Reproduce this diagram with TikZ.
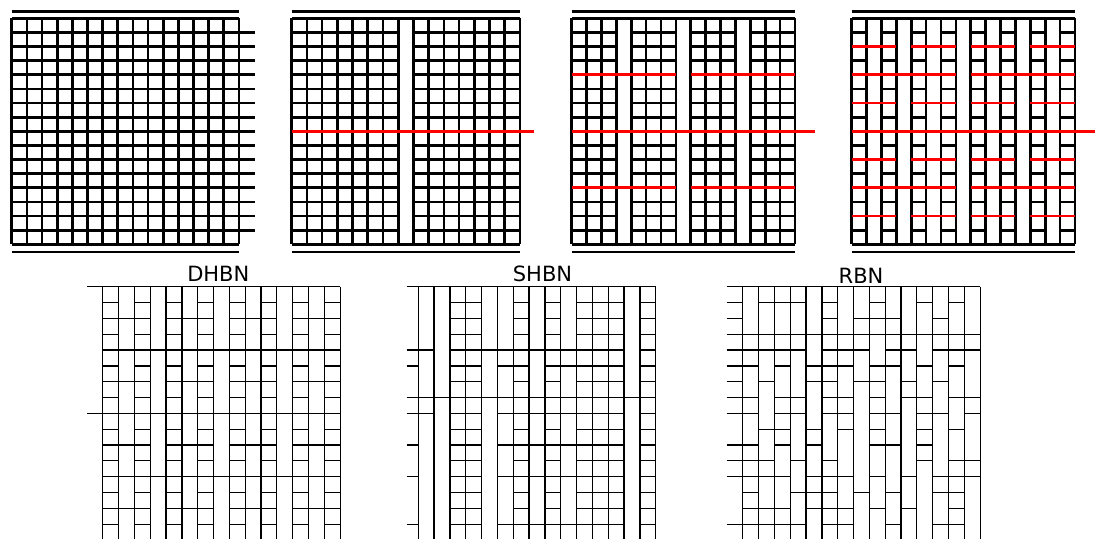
\documentclass[tikz,border=0pt]{standalone}
\usepackage{fontspec}
\setmainfont{DejaVu Sans}
\tikzset{
  tl/.style={line width=2.7pt, black},
  rl/.style={line width=2.7pt, red},
  bl/.style={line width=1.3pt, black},
  lbl/.style={inner sep=0pt, font=\fontsize{21}{25}\selectfont}
}
% bottom-panel segment: x0, stub, row, a, b
\newcommand{\bseg}[5]{%
  \pgfmathsetmacro{\xa}{ifthenelse((#4)<0,(#1)-(#2),(#1)+(#4)*15.83)}%
  \pgfmathsetmacro{\xb}{(#1)+(#5)*15.83}%
  \pgfmathsetmacro{\yy}{286.7+(#3)*15.83}%
  \draw[bl] (\xa,\yy) -- (\xb,\yy);}
% bottom-panel verticals: x0
\newcommand{\bvert}[1]{%
  \foreach \i in {0,...,15} {\draw[bl] ({#1+\i*15.83},286.7) -- ({#1+\i*15.83},545);}}
% top-panel frame: x0, width
\newcommand{\tframe}[2]{%
  \pgfmathsetmacro{\cw}{#2/15}%
  \foreach \i in {0,...,15} {\draw[tl] ({#1+\i*\cw},18.3) -- ({#1+\i*\cw},244.3);}
  \draw[tl] (#1,18.3) -- ({#1+#2},18.3);
  \draw[tl] (#1,244.3) -- ({#1+#2},244.3);
  \draw[tl] (#1,11.7) -- ({#1+#2},11.7);
  \draw[tl] (#1,252) -- ({#1+#2},252);}
% top-panel segment: x0, width, row, a, b, style
\newcommand{\tseg}[6]{%
  \pgfmathsetmacro{\cw}{(#2)/15}%
  \pgfmathsetmacro{\yy}{18.3+(#3)*14.125}%
  \pgfmathsetmacro{\xa}{(#1)+(#4)*\cw}%
  \pgfmathsetmacro{\xb}{(#1)+(#5)*\cw}%
  \draw[#6] (\xa,\yy) -- (\xb,\yy);}
\begin{document}
\begin{tikzpicture}[x=1pt,y=-1pt]
\useasboundingbox (0,0) rectangle (1102,538);
\clip (0,0) rectangle (1102,538);
% ---------- panel 1 ----------
\tframe{11.7}{227.3}
\foreach \r in {1,...,15} {\draw[tl] (11.7,{18.3+\r*14.125}) -- (255,{18.3+\r*14.125});}
% ---------- panel 2 ----------
\tframe{291.7}{228.3}
\foreach \r in {1,...,15} {\tseg{291.7}{228.3}{\r}{0}{7}{tl}\tseg{291.7}{228.3}{\r}{8}{15}{tl}}
\draw[rl] (291.7,131.3) -- (534,131.3);
% ---------- panel 3 ----------
\tframe{571.7}{223.3}
\foreach \r in {1,...,15} {\foreach \g/\h in {0/3,4/7,8/11,12/15} {\tseg{571.7}{223.3}{\r}{\g}{\h}{tl}}}
\foreach \r in {4,12} {\foreach \g/\h in {0/7,8/15} {\tseg{571.7}{223.3}{\r}{\g}{\h}{rl}}}
\draw[rl] (571.7,131.3) -- (815,131.3);
% ---------- panel 4 ----------
\tframe{851.7}{223.3}
\foreach \r in {1,...,15} {\foreach \c in {0,2,...,14} {\tseg{851.7}{223.3}{\r}{\c}{\c+1}{tl}}}
\foreach \r in {2,6,10,14} {\foreach \g/\h in {0/3,4/7,8/11,12/15} {\tseg{851.7}{223.3}{\r}{\g}{\h}{rl}}}
\foreach \r in {4,12} {\foreach \g/\h in {0/7,8/15} {\tseg{851.7}{223.3}{\r}{\g}{\h}{rl}}}
\draw[rl] (851.7,131.3) -- (1095,131.3);
% ---------- labels ----------
\node[lbl] (dhbn) at (218.3,274.2) {DHBN};
\node[lbl] (shbn) at (542.5,273.8) {SHBN};
\node[lbl] (rbn) at (861,275.7) {RBN};
% ---------- DHBN ----------
\bvert{102.7}
\foreach \r/\a/\b in {0/-1/15, 8/-1/15, 4/0/15, 12/0/15} {\bseg{102.7}{15.8}{\r}{\a}{\b}}
\foreach \r in {1,3,...,15} {\foreach \c in {0,2,...,14} {\bseg{102.7}{15.8}{\r}{\c}{\c+1}}}
\foreach \r in {2,6,10,14} {\foreach \g/\h in {0/3,4/7,8/11,12/15} {\bseg{102.7}{15.8}{\r}{\g}{\h}}}
% ---------- SHBN ----------
\bvert{418.3}
\foreach \r in {1,2,3,6,9,11,13,14} {\foreach \g/\h in {2/4,6/7,8/9,10/13,14/15} {\bseg{418.3}{11.7}{\r}{\g}{\h}}}
\foreach \r/\a/\b in {0/-1/15, 7/-1/15,
  4/-1/1, 4/2/13, 4/14/15,
  5/-1/0, 5/2/4, 5/5/7, 5/8/13, 5/14/15,
  8/-1/1, 8/2/4, 8/5/13, 8/14/15,
  10/-1/0, 10/2/4, 10/5/13, 10/14/15,
  12/-1/0, 12/2/4, 12/5/13, 12/14/15,
  15/-1/0, 15/2/4, 15/5/13, 15/14/15} {\bseg{418.3}{11.7}{\r}{\a}{\b}}
% ---------- RBN ----------
\bvert{742.7}
\foreach \r/\a/\b in {0/-1/15, 3/-1/15,
  1/-1/0, 1/1/4, 1/5/6, 1/8/9, 1/11/12, 1/13/14,
  2/-1/0, 2/5/6, 2/7/10, 2/12/13,
  4/-1/4, 4/5/8, 4/9/11, 4/12/15,
  5/-1/1, 5/2/3, 5/4/7, 5/8/10, 5/11/12, 5/13/14,
  6/-1/0, 6/1/2, 6/4/6, 6/7/9, 6/10/11, 6/12/13,
  7/-1/1, 7/2/4, 7/5/7, 7/8/9, 7/10/12, 7/13/15,
  8/-1/1, 8/2/4, 8/5/7, 8/8/10, 8/11/13, 8/14/15,
  9/1/3, 9/4/5, 9/6/7, 9/8/9, 9/11/12, 9/13/14,
  10/-1/1, 10/2/3, 10/4/5, 10/8/10, 10/11/12,
  11/-1/2, 11/3/4, 11/5/6, 11/11/12, 11/13/15,
  12/-1/3, 12/4/7, 12/8/9, 12/10/11, 12/12/15,
  13/0/1, 13/3/6, 13/7/8, 13/9/10, 13/12/14,
  14/0/3, 14/4/7, 14/8/9, 14/10/11, 14/13/14,
  15/-1/4, 15/5/7, 15/9/10, 15/12/14} {\bseg{742.7}{16}{\r}{\a}{\b}}
\end{tikzpicture}
\end{document}
